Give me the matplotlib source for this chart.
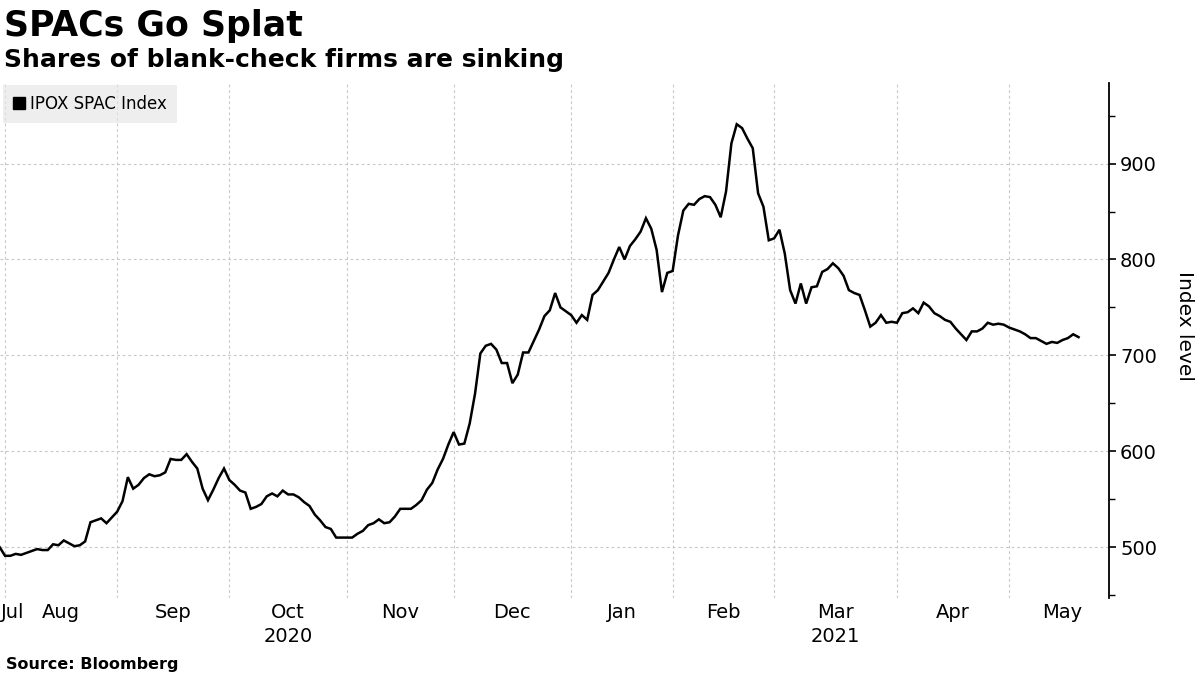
import numpy as np
import pandas as pd
import matplotlib
matplotlib.use("Agg")
import matplotlib.pyplot as plt
from matplotlib.lines import Line2D
import matplotlib.transforms as mtransforms
from matplotlib.ticker import MultipleLocator

plt.rcParams['font.family'] = ['DejaVu Sans']

# ---- data ----
title = "SPACs Go Splat"
subtitle = "Shares of blank-check firms are sinking"
series_name = "IPOX SPAC Index"
y_label = "Index level"
source = "Source: Bloomberg"

holidays = ["2020-09-07", "2020-11-26", "2020-12-25", "2021-01-01",
            "2021-01-18", "2021-02-15", "2021-04-02", "2021-05-31"]
start_date = "2020-07-31"
end_date = "2021-05-20"

values = [
    500,
    491, 491, 493, 492, 494, 496, 498, 497, 497, 503,
    502, 507, 504, 501, 502, 506, 526, 528, 530, 525,
    531, 537, 548, 573, 561, 565, 572, 576, 574, 575,
    578, 592, 591, 591, 597, 589, 582, 561, 549, 560,
    572, 582, 570, 565, 559, 557, 540, 542, 545, 553,
    556, 553, 559, 555, 555, 552, 547, 543, 534, 528,
    521, 519, 510, 510, 510, 510, 514, 517, 523, 525,
    529, 525, 526, 532, 540, 540, 540, 544, 549, 560,
    567, 581, 592, 607, 620, 607, 608, 629, 660, 702,
    710, 712, 706, 692, 692, 671, 680, 703, 703, 715,
    727, 741, 747, 765, 750, 746, 742, 734, 742, 737,
    763, 768, 777, 786, 800, 813, 800, 814, 821, 829,
    843, 832, 810, 766, 786, 788, 825, 851, 858, 857,
    863, 866, 865, 857, 844, 871, 921, 941, 937, 926,
    916, 869, 855, 820, 822, 831, 806, 768, 754, 775,
    754, 771, 772, 787, 790, 796, 791, 783, 768, 765,
    763, 747, 730, 734, 742, 734, 735, 734, 744, 745,
    749, 744, 755, 751, 744, 741, 737, 735, 728, 722,
    716, 725, 725, 728, 734, 732, 733, 732, 729, 727,
    725, 722, 718, 718, 715, 712, 714, 713, 716, 718,
    722, 719,
]

y_ticks = [500, 600, 700, 800, 900]

# ---- trading-day axis ----
all_days = pd.bdate_range(start_date, "2021-06-30", freq="C", holidays=holidays)
dates = all_days[all_days <= pd.Timestamp(end_date)]
n = min(len(dates), len(values))
xpos = np.arange(n)

# first trading day of each month (positions in trading-day index)
month_keys = all_days.to_period("M")
starts = []
for k in pd.unique(month_keys):
    idx = np.where(month_keys == k)[0][0]
    starts.append((k, idx))

fig = plt.figure(figsize=(12, 6.75), dpi=100)
ax = fig.add_axes([0, 1 - 598 / 675, 1109 / 1200, (598 - 83) / 675])

ax.plot(xpos, values[:n], color="black", lw=1.8, zorder=3, solid_joinstyle="miter")

xl = (0.06, 207.7)
ax.set_xlim(*xl)
ax.set_ylim(447, 984)

grid_kw = dict(color="#c8c8c8", lw=0.8, linestyle=(0, (2.5, 2.5)))
vis_starts = [(k, p) for k, p in starts if xl[0] <= p <= xl[1]]
ax.set_xticks([p for k, p in vis_starts])
ax.tick_params(axis="x", length=0, labelbottom=False)
ax.grid(True, axis="both", **grid_kw)
ax.set_axisbelow(True)

# month labels centred between month boundaries
trans = mtransforms.blended_transform_factory(ax.transData, ax.transAxes)
bounds = [p for k, p in starts]
keys = [k for k, p in starts]
for j, k in enumerate(keys[:-1]):
    a, b = bounds[j], bounds[j + 1]
    if b <= xl[0] or a >= xl[1]:
        continue
    label = k.strftime("%b")
    if a < xl[0]:
        ax.text(xl[0] + 0.1, -0.0291, label, transform=trans, ha="left",
                va="center", fontsize=14)
        continue
    c = (a + b) / 2
    ax.text(c, -0.0291, label, transform=trans, ha="center", va="center", fontsize=14)
    if k.month == 10 and k.year == 2020:
        ax.text(c, -0.0757, "2020", transform=trans, ha="center", va="center", fontsize=14)
    if k.month == 3 and k.year == 2021:
        ax.text(c, -0.0757, "2021", transform=trans, ha="center", va="center", fontsize=14)

# y axis on right
ax.yaxis.tick_right()
ax.yaxis.set_label_position("right")
ax.set_yticks(y_ticks)
ax.yaxis.set_minor_locator(MultipleLocator(50))
ax.tick_params(axis="y", which="major", length=5, width=1.2, labelsize=14, pad=3, color="black")
ax.tick_params(axis="y", which="minor", length=4, width=1.0, color="black")
ax.tick_params(axis="y", which="minor", grid_alpha=0)
for s in ["left", "top", "bottom"]:
    ax.spines[s].set_visible(False)
ax.spines["right"].set_linewidth(1.3)
ax.set_ylabel(y_label, rotation=270, fontsize=14.5, va="center")
ax.yaxis.set_label_coords(1.068, 0.528)

# legend
leg = ax.legend(handles=[Line2D([], [], marker="s", color="black", linestyle="none", markersize=8)],
                labels=[series_name], loc="upper left", bbox_to_anchor=(0.0025, 0.997),
                fontsize=12, frameon=True, fancybox=False, handlelength=0.7,
                handletextpad=0.35, borderpad=0.6, borderaxespad=0)
leg.get_frame().set_facecolor("#e6e6e6")
leg.get_frame().set_edgecolor("none")
leg.get_frame().set_alpha(0.65)

# titles
fig.text(0.003, 1 - 36 / 675, title, fontsize=25, fontweight="bold", va="baseline", ha="left")
fig.text(0.003, 1 - 67 / 675, subtitle, fontsize=18, fontweight="bold", va="baseline", ha="left")
fig.text(0.005, 1 - 669 / 675, source, fontsize=11.5, fontweight="bold", va="baseline", ha="left")

fig.savefig("out.png", dpi=100)
